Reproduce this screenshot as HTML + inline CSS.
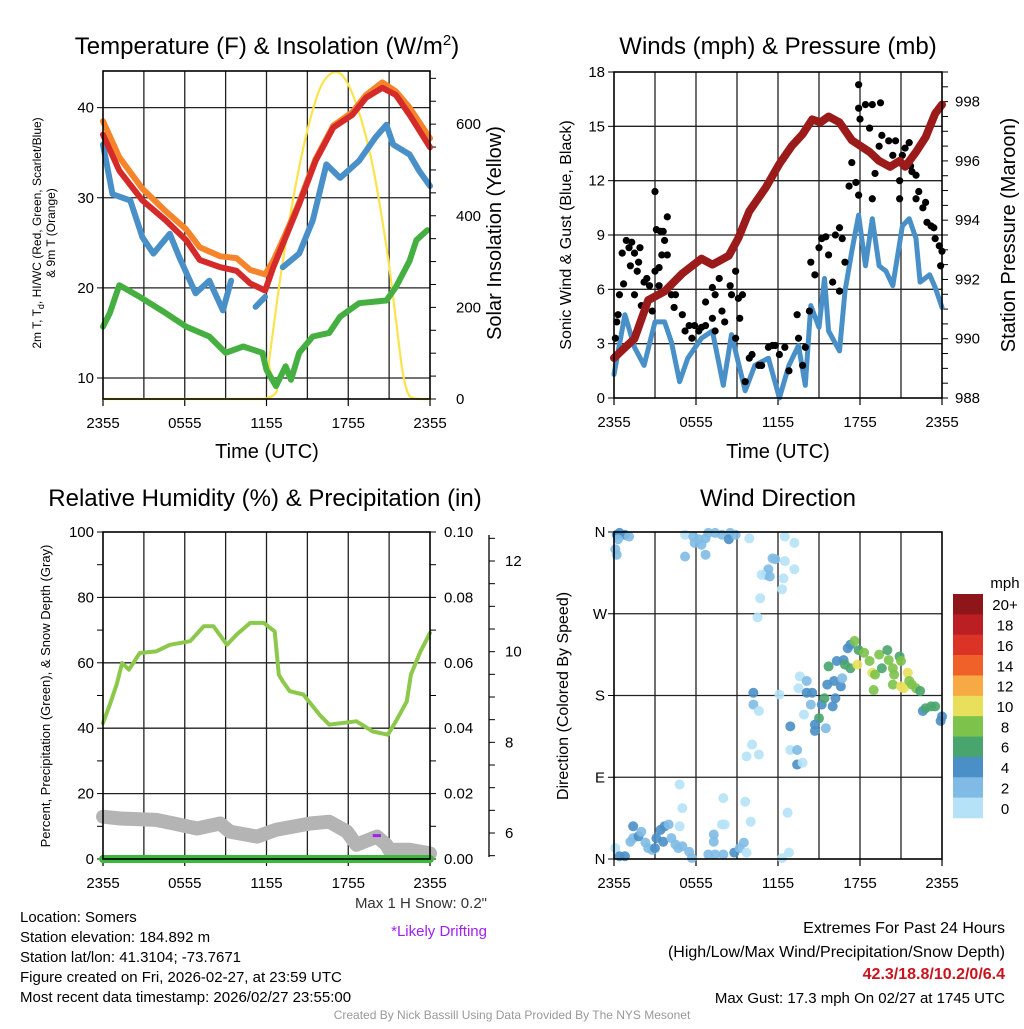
<!DOCTYPE html>
<html><head><meta charset="utf-8"><style>
body{margin:0;background:#fff}
svg text{font-family:"Liberation Sans",sans-serif}
</style></head><body>
<svg id="s" width="1024" height="1024" viewBox="0 0 1024 1024" xmlns="http://www.w3.org/2000/svg">
<rect width="1024" height="1024" fill="#fff"/>
<g id="g"></g>
<text x="267" y="54" font-size="24" text-anchor="middle">Temperature (F) &amp; Insolation (W/m<tspan dy="-9" font-size="15">2</tspan><tspan dy="9">)</tspan></text>
<text x="778" y="54" font-size="24" text-anchor="middle">Winds (mph) &amp; Pressure (mb)</text>
<text x="265" y="506" font-size="24" text-anchor="middle">Relative Humidity (%) &amp; Precipitation (in)</text>
<text x="778" y="506" font-size="24" text-anchor="middle">Wind Direction</text>
<text x="267" y="458" font-size="20" text-anchor="middle">Time (UTC)</text>
<text x="778" y="458" font-size="20" text-anchor="middle">Time (UTC)</text>
<g transform="translate(41,233) rotate(-90)"><text font-size="12" text-anchor="middle">2m T, T<tspan dy="3" font-size="9">d</tspan><tspan dy="-3">, HI/WC (Red, Green, Scarlet/Blue)</tspan></text><text y="14" font-size="12" text-anchor="middle">&amp; 9m T (Orange)</text></g>
<text transform="translate(501,233) rotate(-90)" font-size="20" text-anchor="middle">Solar Insolation (Yellow)</text>
<text transform="translate(571,235) rotate(-90)" font-size="16" text-anchor="middle">Sonic Wind &amp; Gust (Blue, Black)</text>
<text transform="translate(1015,235) rotate(-90)" font-size="20" text-anchor="middle">Station Pressure (Maroon)</text>
<text transform="translate(50,696) rotate(-90)" font-size="13" text-anchor="middle">Percent, Precipitation (Green), &amp; Snow Depth (Gray)</text>
<text transform="translate(568,696) rotate(-90)" font-size="16" text-anchor="middle">Direction (Colored By Speed)</text>
<g font-size="15">
<text x="20" y="922">Location: Somers</text>
<text x="20" y="942">Station elevation: 184.892 m</text>
<text x="20" y="962">Station lat/lon: 41.3104; -73.7671</text>
<text x="20" y="982">Figure created on Fri, 2026-02-27, at 23:59 UTC</text>
<text x="20" y="1002">Most recent data timestamp: 2026/02/27 23:55:00</text>
</g>
<text x="487" y="908" font-size="15" text-anchor="end" fill="#333">Max 1 H Snow: 0.2"</text>
<text x="487" y="936" font-size="15" text-anchor="end" fill="#a020f0">*Likely Drifting</text>
<g font-size="16" text-anchor="end">
<text x="1005" y="933">Extremes For Past 24 Hours</text>
<text x="1005" y="957">(High/Low/Max Wind/Precipitation/Snow Depth)</text>
<text x="1005" y="979" fill="#c8141e" font-weight="bold">42.3/18.8/10.2/0/6.4</text>
<text x="1005" y="1003" font-size="15">Max Gust: 17.3 mph On 02/27 at 1745 UTC</text>
</g>
<text x="512" y="1019" font-size="12" text-anchor="middle" fill="#999">Created By Nick Bassill Using Data Provided By The NYS Mesonet</text>
</svg>
<script>
// ---- Temperature panel data ----
const tRedH=[0,1.2,2.9,4.6,6.1,7.1,8.6,9.8,10.8,11.9,12.5,13.4,14.4,15.6,16.9,18.3,19.3,20.5,21.5,22.5,24];
const tRedV=[37.0,33.0,29.7,27.5,25.3,23.1,22.3,21.9,20.5,19.7,22.3,25.6,29.3,34.1,37.8,39.2,41.1,42.2,41.4,39.2,35.6];
const tOrgH=[0,1.2,2.9,4.6,6.1,7.1,8.6,9.8,10.8,11.9,12.5,13.4,14.4,15.6,16.9,18.3,19.3,20.5,21.5,22.5,24];
const tOrgV=[38.5,34.5,31.0,28.5,26.5,24.5,23.5,23.3,22.0,21.5,23.0,26.0,29.5,34.3,38.0,39.5,41.4,42.8,41.8,40.0,36.6];
const tBluH=[0,0.7,2.0,2.9,3.7,4.9,5.6,6.8,7.8,8.8,9.4,10.5,11.2,11.9,12.6,13.2,14.4,15.4,16.4,17.4,18.8,20.0,20.8,21.3,22.5,23.2,24];
const tBluV=[35.9,30.4,29.7,25.6,23.8,26.0,23.4,19.4,20.8,17.5,20.8,null,17.9,19.0,null,22.3,23.8,27.5,33.7,32.2,34.1,36.7,38.1,35.9,34.8,33.0,31.3];
const tDewH=[0,0.5,1.2,2.7,4.6,6.1,7.8,9.0,10.3,11.7,12.0,12.7,13.4,13.8,14.4,15.4,16.6,17.4,18.8,20.8,21.5,22.5,23.0,23.8];
const tDewV=[15.7,17.2,20.3,19.0,17.2,15.7,14.6,12.8,13.5,12.8,10.9,9.1,11.3,9.8,12.8,14.6,15.0,16.8,18.3,18.6,20.1,23.0,25.3,26.4];
const solarH=[0,11.8,12.2,13.0,13.9,14.9,15.9,16.9,17.8,18.8,19.8,20.8,21.5,22.0,22.5,23.2,24];
const solarV=[0,0,86,261,428,574,676,713,697,625,508,333,173,57,6,0,0];
// ---- Winds panel data ----
const presH=[0,0.8,1.5,2.5,3.7,5.0,6.4,7.2,8.4,9.1,9.9,11.1,12.1,13.0,13.8,14.5,15.1,15.7,16.5,17.4,18.7,19.4,20.2,20.9,21.3,22.1,22.8,23.5,24];
const presV=[989.35,989.7,990.0,991.3,991.6,992.2,992.7,992.5,992.8,993.4,994.3,995.1,995.9,996.5,996.9,997.4,997.3,997.5,997.3,996.7,996.3,996.0,995.8,996.0,995.8,996.3,996.8,997.6,997.9];
const windH=[0,0.8,1.5,2.2,3,3.7,4.2,4.8,5.4,6.4,7.2,8.0,8.6,9.6,10.3,11.3,12.1,12.8,13.5,14.0,14.4,15,15.4,15.7,16.5,16.9,17.4,17.9,18.4,18.9,19.4,19.9,20.4,21.1,21.6,22.1,22.4,23.1,23.5,24];
const windV=[1.3,4.6,2.8,1.8,4.2,4.2,3.1,0.9,2.2,3.3,3.7,0.7,3.5,0.4,1.8,2.2,0,1.8,2.9,0.7,5.1,3.9,6.6,3.7,2.6,5.9,8.1,10.1,7.3,9.9,7.3,7.0,6.2,9.5,9.9,8.8,6.4,6.8,6.1,5.0];
const gustH=[0.1,0.2,0.3,0.4,0.7,0.6,0.9,1.1,1.3,1.2,1.5,1.7,1.8,1.9,1.5,2.0,2.2,2.4,2.6,2.8,3.0,3.0,3.1,3.4,3.6,3.7,3.5,3.9,3.9,3.3,3.3,4.2,4.5,4.4,5.0,5.2,5.5,5.7,5.9,6.2,6.4,6.7,7.2,7.4,6.7,7.2,7.4,7.7,7.9,8.1,8.5,8.6,8.9,9.1,9.2,9.4,8.9,9.6,9.9,10.1,10.6,10.8,11.3,11.6,11.8,12.1,12.5,12.8,13.4,13.5,13.8,14.0,14.3,14.4,14.7,15.0,15.2,15.5,15.7,16.2,16.5,16.7,16.9,16.5,16.0,17.2,17.4,17.7,17.9,17.9,17.9,18.0,18.4,18.7,18.9,18.9,19.1,19.4,19.6,19.5,20.1,20.4,20.6,20.9,20.9,21.1,21.3,21.6,21.7,21.8,22.1,22.1,22.3,22.6,22.8,22.9,23.2,23.4,23.5,23.8,23.9,24.0];
const gustV=[3.3,4.2,4.6,5.7,6.3,8.0,8.7,8.3,8.6,7.3,8.0,7.0,7.5,8.3,5.7,5.1,6.4,6.6,6.2,4.8,7.0,11.4,9.3,9.2,9.2,8.7,7.9,7.9,10.0,6.2,7.2,5.7,5.7,5.0,4.6,3.7,4.0,3.3,4.0,3.7,3.9,4.0,4.4,3.7,5.3,6.1,5.7,6.6,4.8,4.2,6.2,5.7,7.0,5.5,4.4,5.7,3.3,0.9,2.2,2.4,1.8,1.8,2.8,2.9,2.9,2.4,2.8,1.5,4.6,3.3,1.8,2.8,4.8,7.5,6.8,8.3,8.8,8.9,7.9,9.0,9.4,8.8,7.5,5.9,6.4,11.7,13.0,11.9,11.2,17.3,16.0,15.4,16.2,14.9,16.2,11.0,12.4,13.9,14.5,16.3,14.2,13.4,14.2,11.0,12.0,13.4,13.8,14.1,12.8,12.5,12.3,11.0,11.4,10.5,10.8,9.7,9.5,9.4,8.8,8.4,7.3,8.1];
// ---- Humidity panel data ----
const rhH=[0,0.5,1.0,1.4,1.9,2.7,3.9,4.9,6.4,7.4,8.1,9.1,9.8,10.8,11.8,12.6,12.9,13.2,13.7,14.7,15.9,16.6,18.6,19.8,20.9,21.5,22.3,22.6,23.3,24];
const rhV=[41.6,47.2,53.3,59.9,57.9,63.0,63.5,65.5,66.6,71.2,71.2,65.5,68.6,72.2,72.2,69.6,56.4,54.3,51.3,50.3,44.1,41.1,42.1,39.0,38.0,42.1,48.2,56.4,63.5,69.1];
const snowH=[0,1.25,3.9,5.2,6.9,8.6,9.3,11.3,12.7,15.2,16.6,17.9,18.6,20.1,20.8,21.0,22.5,24];
const snowV=[6.36,6.32,6.29,6.21,6.10,6.21,6.03,5.92,6.07,6.21,6.25,6.03,5.74,5.92,5.74,5.63,5.63,5.55];
const precipH=[0,24];
const precipV=[0,0];
// ---- Wind direction panel data ----
const dirH=[0.2,0.4,0.8,1.1,0.3,0.1,0.2,5.2,5.8,5.9,6.4,6.7,6.9,7.4,7.9,8.5,8.4,8.9,5.2,6.2,6.7,9.9,12.5,13.2,11.6,11.8,11.3,11.1,10.8,11.4,12.5,12.4,13.2,12.3,10.7,10.5,10.2,10.2,10.6,12.1,10.1,9.7,10.6,12.9,12.9,13.4,13.4,13.8,13.9,13.6,13.5,14.1,14.1,14.5,14.4,15.0,14.7,14.7,15.2,15.4,15.5,15.6,16.0,16.1,16.2,16.6,15.7,16.3,16.8,16.7,17.1,17.3,17.6,16.9,17.3,17.8,17.9,18.3,18.7,18.9,19.1,19.0,19.6,19.4,20.0,20.1,20.4,20.4,20.5,20.9,21.0,21.0,21.2,21.5,21.6,21.8,22.1,22.4,22.6,22.8,23.2,23.5,23.9,24.0,0.1,0.4,0.8,1.2,1.4,1.4,1.8,2.0,2.3,2.5,2.8,3.0,3.1,3.4,3.7,4.0,3.6,4.2,4.5,4.7,5.0,5.5,5.7,4.8,5.0,4.8,8.0,7.9,8.1,7.3,7.3,6.9,7.4,8.0,8.8,9.2,9.5,9.6,10.0,9.7,12.7,12.8,12.3];
const dirDeg=[357,359,357,355,352,341,335,357,355,348,346,335,359,359,357,359,352,357,333,352,353,353,355,348,331,330,319,313,313,311,328,309,319,297,287,266,183,170,163,181,126,113,115,146,120,120,104,106,159,201,188,196,183,183,170,155,148,141,170,177,144,192,168,196,177,190,212,218,219,199,232,236,240,214,210,214,230,227,218,205,203,186,210,225,230,219,210,192,203,223,218,190,188,205,196,192,188,185,163,166,168,168,152,157,12,3,3,19,23,36,25,30,18,12,10,12,23,32,36,38,19,23,16,12,14,8,1,36,56,82,67,38,38,27,19,5,5,5,7,12,18,63,41,7,51,7,1];
const dirSpd=[4.5,4.5,4.5,3,3,3,3,1,3,3,3,3,3,3,3,3,4.5,3,3,3,3,1,1,1,3,3,3,3,1,3,1,1,1,1,1,1,4.5,3,1,1,1,1,1,4.5,1,3,4.5,1,1,1,1,3,4.5,4.5,3,7,4.5,4.5,4.5,7,3,4.5,4.5,4.5,4.5,4.5,7,4.5,4.5,3,4.5,4.5,8.5,7,7,10.5,7,8.5,8.5,10.5,8.5,8.5,7,8.5,7,8.5,8.5,8.5,8.5,7,8.5,10.5,10.5,10.5,8.5,8.5,8.5,7,4.5,7,7,7,4.5,4.5,1,4.5,4.5,3,3,4.5,4.5,3,3,3,3,4.5,4.5,4.5,4.5,3,4.5,3,3,3,3,3,3,1,1,1,1,1,1,3,3,3,3,3,4.5,3,3,1,1,1,1,1,1];
const spdLabels=["20+","18","16","14","12","10","8","6","4","2","0"];
const spdColors=["#8e1519","#bb1e23","#dc3327","#f06129","#f7a944","#e8e05a","#7cc24b","#49a56e","#4a8fc6","#7fbbe4","#b5e2f7"];
const xTickLabels=["2355","0555","1155","1755","2355"];
const xTickHours=[0,6,12,18,24];

const NS="http://www.w3.org/2000/svg";
const G=document.getElementById('g');
function mk(tag,attrs,parent){const e=document.createElementNS(NS,tag);for(const k in attrs)e.setAttribute(k,attrs[k]);(parent||G).appendChild(e);return e;}
function lin(d0,d1,r0,r1){return v=>r0+(v-d0)/(d1-d0)*(r1-r0);}
function pathD(hs,vs,xs,ys){let d="",pen=false;for(let i=0;i<hs.length;i++){if(vs[i]===null){pen=false;continue;}d+=(pen?"L":"M")+xs(hs[i]).toFixed(1)+","+ys(vs[i]).toFixed(1);pen=true;}return d;}
function smoothD(hs,vs,xs,ys){const P=hs.map((h,i)=>[xs(h),ys(vs[i])]);let d="M"+P[0][0]+","+P[0][1];
 for(let i=0;i<P.length-1;i++){const p0=P[Math.max(0,i-1)],p1=P[i],p2=P[i+1],p3=P[Math.min(P.length-1,i+2)];
  const c1=[p1[0]+(p2[0]-p0[0])/6,p1[1]+(p2[1]-p0[1])/6],c2=[p2[0]-(p3[0]-p1[0])/6,p2[1]-(p3[1]-p1[1])/6];
  d+="C"+c1[0].toFixed(1)+","+Math.min(399,c1[1]).toFixed(1)+" "+c2[0].toFixed(1)+","+Math.min(399,c2[1]).toFixed(1)+" "+p2[0].toFixed(1)+","+p2[1].toFixed(1);}
 return d;}
function line(hs,vs,xs,ys,col,w,name){const p=mk('path',{d:pathD(hs,vs,xs,ys),fill:'none',stroke:col,'stroke-width':w,'stroke-linejoin':'round','stroke-linecap':'round'});return p;}
function txt(x,y,s,anchor,size){const t=mk('text',{x:x,y:y,'font-size':size||15,'text-anchor':anchor||'middle'});t.textContent=s;return t;}

function frame(L,R,T,B,xs,name){
  const g=mk('g',{});
  for(let h=3;h<24;h+=3)mk('line',{x1:xs(h),x2:xs(h),y1:T,y2:B,stroke:'#222','stroke-width':1.3},g);
  xTickHours.forEach((h,i)=>{mk('line',{x1:xs(h),x2:xs(h),y1:B,y2:B+7,stroke:'#000','stroke-width':1.2},g);txt(xs(h),B+29,xTickLabels[i]);});
  return g;
}
function border(L,R,T,B){mk('rect',{x:L,y:T,width:R-L,height:B-T,fill:'none',stroke:'#000','stroke-width':1.6});}
function hgrid(vals,ys,L,R){vals.forEach(v=>mk('line',{x1:L,x2:R,y1:ys(v),y2:ys(v),stroke:'#222','stroke-width':1.3}));}
function yTicks(vals,ys,x,dir,len,labels,lx,anchor){vals.forEach((v,i)=>{mk('line',{x1:x,x2:x+dir*len,y1:ys(v),y2:ys(v),stroke:'#000','stroke-width':1});if(labels&&labels[i]!==null)txt(lx,ys(v)+5,labels[i],anchor);});}

// ===== Panel 1: Temperature =====
{const L=103,R=430,T=71,B=399;const xs=lin(0,24,L,R);const ys=lin(10,44,378,71.6);const yr=lin(0,716,399,71);
 frame(L,R,T,B,xs,'temperature-panel');hgrid([10,20,30,40],ys,L,R);
 yTicks([10,20,30,40],ys,L,-1,6,["10","20","30","40"],L-9,'end');
 const sv=[];for(let v=0;v<=700;v+=50)sv.push(v);
 yTicks(sv,yr,R,1,6,sv.map(v=>v%200===0?String(v):null),R+26,'start');
 const sp=mk('path',{d:smoothD(solarH,solarV,xs,yr),fill:'none',stroke:'#fde34b','stroke-width':2.2});
 
 
 line(tDewH,tDewV,xs,ys,'#45b041',6,'dewpoint-line');
 line(tBluH,tBluV,xs,ys,'#4a90c8',6,'windchill-line');
 line(tOrgH,tOrgV,xs,ys,'#f6842a',6,'temp-9m-line');
 line(tRedH,tRedV,xs,ys,'#d42a2a',6,'temp-2m-line');
 border(L,R,T,B);}
// ===== Panel 2: Winds =====
{const L=614,R=942,T=72,B=398;const xs=lin(0,24,L,R);const ys=lin(0,18,B,T);const yp=lin(988,999,B,T);
 frame(L,R,T,B,xs,'winds-panel');const wv=[3,6,9,12,15];hgrid(wv,ys,L,R);
 yTicks([0,3,6,9,12,15,18],ys,L,-1,6,["0","3","6","9","12","15","18"],L-9,'end');
 const pv=[];for(let v=988;v<=999;v+=0.5)pv.push(v);
 yTicks(pv,yp,R,1,6,pv.map(v=>(v%2===0)?String(v):null),R+13,'start');
 line(windH,windV,xs,ys,'#4a90c8',5,'sonic-wind-line');
 gustH.forEach((h,i)=>{const c=mk('circle',{cx:xs(h),cy:ys(gustV[i]),r:3.6,fill:'#000'});
  
  });
 line(presH,presV,xs,yp,'#9b1a1a',8,'pressure-line');
 border(L,R,T,B);}
// ===== Panel 3: Humidity =====
{const L=103,R=430,T=532,B=859;const xs=lin(0,24,L,R);const ys=lin(0,100,B,T);const yq=lin(0,0.1,B,T);const yn=lin(6,12,833,561);
 frame(L,R,T,B,xs,'humidity-panel');hgrid([20,40,60,80],ys,L,R);
 yTicks([0,10,20,30,40,50,60,70,80,90,100],ys,L,-1,6,["0",null,"20",null,"40",null,"60",null,"80",null,"100"],L-9,'end');
 const qv=[];for(let i=0;i<=10;i++)qv.push(i/100);
 yTicks(qv,yq,R,1,6,qv.map((v,i)=>i%2===0?v.toFixed(2):null),R+14,'start');
 const ax=mk('line',{x1:489,x2:489,y1:535,y2:857,stroke:'#000','stroke-width':1.3});
 const nv=[5.5,6,6.5,7,7.5,8,8.5,9,9.5,10,10.5,11,11.5,12,12.5];
 yTicks(nv,yn,489,1,6,nv.map(v=>(v%2===0)?String(v):null),505,'start');
 line(rhH,rhV,xs,ys,'#8cc84b',4,'relative-humidity-line');
 line(snowH,snowV,xs,yn,'#b4b4b4',14,'snow-depth-line');
 const pm=mk('line',{x1:xs(19.8),x2:xs(20.4),y1:yn(5.92)-1,y2:yn(5.92)-1,stroke:'#a020f0','stroke-width':3});
 line(precipH,precipV,xs,yq,'#3db83d',8,'precipitation-line');
 border(L,R,T,B);}
// ===== Panel 4: Wind direction =====
{const L=614,R=942,T=532,B=859;const xs=lin(0,24,L,R);const ys=lin(0,360,B,T);
 frame(L,R,T,B,xs,'wind-direction-panel');hgrid([90,180,270],ys,L,R);
 yTicks([0,90,180,270,360],ys,L,-1,6,["N","E","S","W","N"],L-14,'middle');
 function colFor(s){let k=Math.min(10,Math.floor(s/2));return spdColors[10-k];}
 dirH.forEach((h,i)=>{const c=mk('circle',{cx:xs(h),cy:ys(dirDeg[i]),r:5,fill:colFor(dirSpd[i]),'fill-opacity':0.9});
  
  });
 border(L,R,T,B);
 const lg=mk('g',{});
 const t0=594,bh=(818-594)/11;
 spdLabels.forEach((s,i)=>{mk('rect',{x:953,y:t0+i*bh,width:30,height:bh+0.3,fill:spdColors[i]},lg);const t=mk('text',{x:1005,y:t0+i*bh+bh/2+6,'font-size':15,'text-anchor':'middle'},lg);t.textContent=s;});
 const m=mk('text',{x:1005,y:588,'font-size':15,'text-anchor':'middle'},lg);m.textContent='mph';}
</script>
</body></html>
